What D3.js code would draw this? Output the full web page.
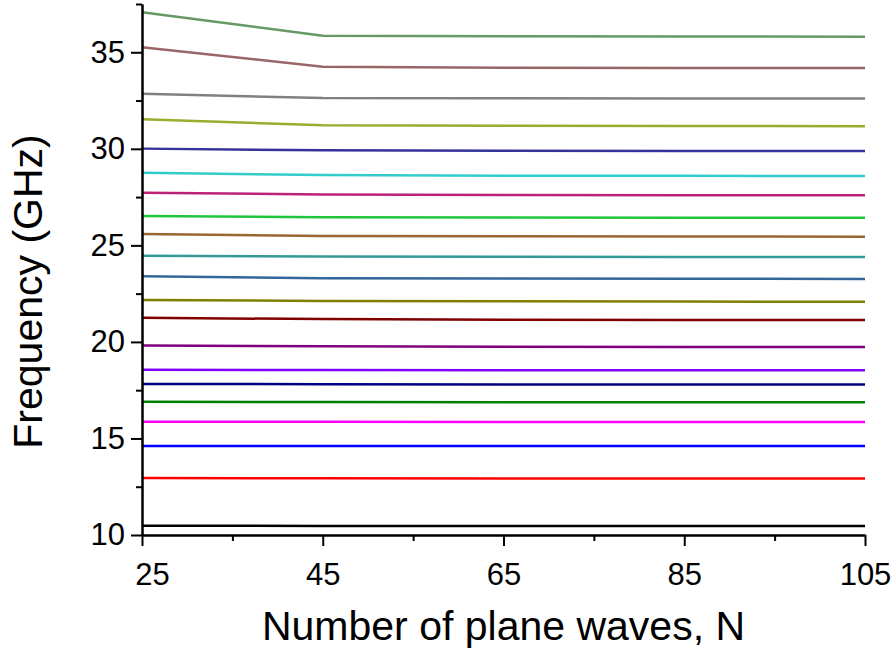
<!DOCTYPE html>
<html>
<head>
<meta charset="utf-8">
<script src="https://cdn.jsdelivr.net/npm/d3@7"></script>
<style>
	body { margin: 0; background: #fff; }
	svg { display: block; font-family: "Liberation Sans", Arial, sans-serif; }
	.axis path, .axis line { stroke: #000; stroke-width: 2; }
	.axis text { font-size: 31px; fill: #000; }
	.title { font-size: 41px; fill: #000; }
</style>
</head>
<body>
<div id="chart"></div>
<script>
// sampled plane wave counts
const planeWaves = [25, 45, 65, 85, 105];

// eigenfrequencies (GHz), one array per band, lowest first
const band01 = [10.48, 10.47, 10.47, 10.47, 10.47];
const band02 = [12.95, 12.94, 12.93, 12.93, 12.93];
const band03 = [14.61, 14.61, 14.61, 14.61, 14.61];
const band04 = [15.87, 15.86, 15.85, 15.85, 15.85];
const band05 = [16.90, 16.89, 16.88, 16.88, 16.88];
const band06 = [17.82, 17.81, 17.80, 17.80, 17.80];
const band07 = [18.56, 18.54, 18.53, 18.53, 18.53];
const band08 = [19.82, 19.77, 19.75, 19.74, 19.74];
const band09 = [21.25, 21.18, 21.15, 21.14, 21.13];
const band10 = [22.17, 22.12, 22.10, 22.09, 22.08];
const band11 = [23.40, 23.30, 23.28, 23.27, 23.26];
const band12 = [24.46, 24.42, 24.41, 24.40, 24.40];
const band13 = [25.59, 25.49, 25.47, 25.46, 25.45];
const band14 = [26.52, 26.45, 26.44, 26.43, 26.43];
const band15 = [27.73, 27.64, 27.61, 27.60, 27.59];
const band16 = [28.76, 28.64, 28.61, 28.60, 28.59];
const band17 = [30.01, 29.92, 29.90, 29.89, 29.89];
const band18 = [31.53, 31.22, 31.19, 31.18, 31.17];
const band19 = [32.85, 32.63, 32.62, 32.61, 32.61];
const band20 = [35.26, 34.25, 34.20, 34.19, 34.18];
const band21 = [37.07, 35.86, 35.83, 35.82, 35.81];

const bands = [band01, band02, band03, band04, band05, band06, band07, band08, band09, band10,
	band11, band12, band13, band14, band15, band16, band17, band18, band19, band20, band21];
const bandColors = ["#000000", "#ff0000", "#0000ff", "#ff00ff", "#008000", "#000080", "#8000ff",
	"#800080", "#800000", "#808000", "#336699", "#339999", "#996633", "#1fc63c", "#bb2277",
	"#33cccc", "#333399", "#9aad2e", "#808080", "#996666", "#669966"];

const xMajor = [25, 45, 65, 85, 105];
const xMinor = [35, 55, 75, 95];
const yMajor = [10, 15, 20, 25, 30, 35];
const yMinor = [12.5, 17.5, 22.5, 27.5, 32.5, 37.5];

const fullWidth = 894, fullHeight = 652;
const margin = { top: 4, right: 29, bottom: 117, left: 142 };
const width = fullWidth - margin.left - margin.right;
const height = fullHeight - margin.top - margin.bottom;

const svg = d3.select("#chart")
	.append("svg")
	.attr("width", fullWidth)
	.attr("height", fullHeight);
const g = svg.append("g")
	.attr("transform", "translate(" + margin.left + "," + margin.top + ")");

const x = d3.scaleLinear().domain([25, 105]).range([0, width]);
const y = d3.scaleLinear().domain([10, 37.5]).range([height, 0]);

// Lines
const line = d3.line()
	.x((d, i) => x(planeWaves[i]))
	.y(d => y(d));
g.selectAll(".band")
	.data(bands)
	.enter()
	.append("path")
	.classed("band", true)
	.attr("fill", "none")
	.attr("stroke", (d, i) => bandColors[i])
	.attr("stroke-width", 2.5)
	.attr("d", line);

// X axis
g.append("g")
	.classed("axis", true)
	.attr("transform", "translate(0," + height + ")")
	.call(d3.axisBottom(x).tickValues(xMinor).tickSize(6).tickSizeOuter(0).tickFormat(""));
const xAxis = g.append("g")
	.classed("axis", true)
	.attr("transform", "translate(0," + height + ")")
	.call(d3.axisBottom(x).tickValues(xMajor).tickSize(11).tickSizeOuter(0).tickPadding(17).tickFormat(d3.format("d")));
// first label nudged right, clear of the "10"
xAxis.selectAll(".tick text").filter(d => d === 25).attr("dx", 10);

// Y axis
g.append("g")
	.classed("axis", true)
	.call(d3.axisLeft(y).tickValues(yMinor).tickSize(6).tickSizeOuter(0).tickFormat(""));
g.append("g")
	.classed("axis", true)
	.call(d3.axisLeft(y).tickValues(yMajor).tickSize(11).tickSizeOuter(0).tickPadding(6).tickFormat(d3.format("d")));

// Titles
svg.append("text")
	.classed("title", true)
	.attr("x", margin.left + width / 2)
	.attr("y", 640)
	.attr("text-anchor", "middle")
	.text("Number of plane waves, N");
svg.append("text")
	.classed("title", true)
	.attr("transform", "translate(42," + (margin.top + height / 2 + 22) + ") rotate(-90)")
	.attr("text-anchor", "middle")
	.text("Frequency (GHz)");
</script>
</body>
</html>
